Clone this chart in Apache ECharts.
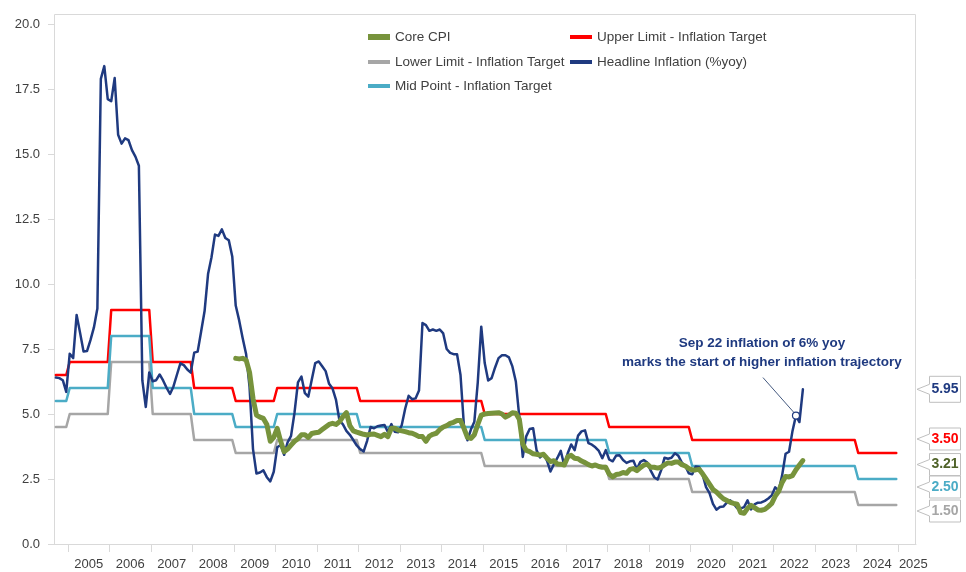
<!DOCTYPE html>
<html>
<head>
<meta charset="utf-8">
<script src="https://cdn.jsdelivr.net/npm/echarts@6/dist/echarts.min.js"></script>
<style>
  html, body { margin: 0; padding: 0; background: #fff; }
  #chart { width: 966px; height: 572px; }
</style>
</head>
<body>
<div id="chart"></div>
<script>
// monthly series, first month of each
const headlineStart = [2004, 9];
const coreStart = [2009, 1];

// Headline Inflation (%yoy), Sep 2004 .. Sep 2022
const headline = [
  6.40, 6.38, 6.30, 5.85,
  7.32, 7.15, 8.81, 8.12, 7.40, 7.42, 7.84, 8.33, 9.06, 17.89, 18.38, 17.11,
  17.03, 17.92, 15.74, 15.40, 15.60, 15.53, 15.15, 14.90, 14.55, 6.29, 5.27, 6.60,
  6.26, 6.30, 6.52, 6.29, 6.01, 5.77, 6.06, 6.51, 6.95, 6.88, 6.71, 6.59,
  7.36, 7.40, 8.17, 8.96, 10.38, 11.03, 11.90, 11.85, 12.10, 11.77, 11.68, 11.06,
  9.17, 8.60, 7.92, 7.31, 6.04, 3.65, 2.71, 2.75, 2.83, 2.57, 2.41, 2.78,
  3.72, 3.81, 3.43, 3.91, 4.16, 5.05, 6.22, 6.44, 5.80, 5.67, 6.33, 6.96,
  7.02, 6.84, 6.65, 6.16, 5.98, 5.54, 4.75, 4.60, 4.35, 4.20, 4.00, 3.79,
  3.65, 3.56, 3.97, 4.50, 4.45, 4.53, 4.56, 4.58, 4.31, 4.61, 4.32, 4.30,
  4.57, 5.20, 5.70, 5.57, 5.60, 5.90, 8.50, 8.42, 8.20, 8.25, 8.20, 8.25,
  8.10, 7.50, 7.35, 7.30, 7.30, 6.50, 4.53, 3.99, 4.40, 4.70, 6.23, 8.36,
  6.96, 6.29, 6.38, 6.79, 7.15, 7.26, 7.26, 7.18, 6.83, 6.25, 4.89, 3.35,
  4.14, 4.42, 4.45, 3.60, 3.33, 3.45, 3.21, 2.79, 3.07, 3.31, 3.58, 3.02,
  3.49, 3.83, 3.61, 4.17, 4.33, 4.37, 3.88, 3.82, 3.72, 3.58, 3.30, 3.61,
  3.25, 3.18, 3.40, 3.41, 3.23, 3.12, 3.18, 3.20, 2.88, 3.16, 3.23, 3.13,
  2.82, 2.57, 2.48, 2.83, 3.32, 3.28, 3.32, 3.49, 3.39, 3.13, 3.00, 2.72,
  2.68, 2.98, 2.96, 2.67, 2.19, 1.96, 1.54, 1.32, 1.42, 1.44, 1.59, 1.68,
  1.55, 1.38, 1.37, 1.42, 1.68, 1.33, 1.52, 1.59, 1.60, 1.66, 1.75, 1.87,
  2.18, 2.06, 2.64, 3.47, 3.55, 4.35, 4.94, 4.69, 5.95
];

// Core CPI, Jan 2009 .. Sep 2022
const coreCpi = [
  7.14, 7.12, 7.14, 7.08, 6.60, 5.60, 4.96, 4.88, 4.83, 4.60, 3.95, 4.10,
  4.45, 3.95, 3.55, 3.65, 3.80, 3.95, 4.05, 4.20, 4.20, 4.10, 4.25, 4.28,
  4.30, 4.40, 4.50, 4.60, 4.64, 4.60, 4.70, 4.90, 5.05, 4.55, 4.35, 4.30,
  4.26, 4.22, 4.19, 4.22, 4.23, 4.18, 4.13, 4.22, 4.13, 4.45, 4.45, 4.38,
  4.35, 4.32, 4.28, 4.26, 4.20, 4.13, 4.13, 3.95, 4.15, 4.22, 4.26, 4.40,
  4.50, 4.55, 4.64, 4.68, 4.75, 4.75, 4.45, 4.10, 4.06, 4.20, 4.60, 4.96,
  5.00, 5.02, 5.03, 5.04, 5.05, 5.00, 4.88, 4.95, 5.05, 5.03, 4.80, 3.85,
  3.60, 3.55, 3.47, 3.45, 3.42, 3.45, 3.30, 3.17, 3.20, 3.08, 3.07, 3.04,
  3.35, 3.41, 3.30, 3.28, 3.19, 3.13, 3.05, 3.00, 3.04, 2.98, 2.95, 2.95,
  2.69, 2.58, 2.67, 2.69, 2.75, 2.72, 2.87, 2.90, 2.82, 2.94, 3.03, 3.07,
  2.95, 2.95, 2.92, 2.95, 3.05, 3.12, 3.10, 3.15, 3.15, 3.05, 3.00, 2.90,
  2.85, 2.85, 2.87, 2.70, 2.50, 2.30, 2.10, 2.00, 1.86, 1.74, 1.67, 1.60,
  1.56, 1.53, 1.21, 1.18, 1.37, 1.49, 1.40, 1.31, 1.30, 1.33, 1.44, 1.56,
  1.84, 2.03, 2.37, 2.60, 2.58, 2.63, 2.86, 3.04, 3.21
];

// annual inflation target band
const targetYears = [2004, 2005, 2006, 2007, 2008, 2009, 2010, 2011, 2012, 2013, 2014,
  2015, 2016, 2017, 2018, 2019, 2020, 2021, 2022, 2023, 2024];
const upperLimit = [6.5, 7, 9, 7, 6, 5.5, 6, 6, 5.5, 5.5, 5.5, 5, 5, 5, 4.5, 4.5, 4, 4, 4, 4, 3.5];
const midPoint   = [5.5, 6, 8, 6, 5, 4.5, 5, 5, 4.5, 4.5, 4.5, 4, 4, 4, 3.5, 3.5, 3, 3, 3, 3, 2.5];
const lowerLimit = [4.5, 5, 7, 5, 4, 3.5, 4, 4, 3.5, 3.5, 3.5, 3, 3, 3, 2.5, 2.5, 2, 2, 2, 2, 1.5];

const xTickYears = [2005, 2006, 2007, 2008, 2009, 2010, 2011, 2012, 2013, 2014, 2015,
  2016, 2017, 2018, 2019, 2020, 2021, 2022, 2023, 2024, 2025];
const yTicks = [0, 2.5, 5, 7.5, 10, 12.5, 15, 17.5, 20];

const annotMonth = [2022, 7];
const annotText = 'Sep 22 inflation of 6% yoy\nmarks the start of higher inflation trajectory';

const NAMES = {
  core: 'Core CPI',
  upper: 'Upper Limit - Inflation Target',
  lower: 'Lower Limit - Inflation Target',
  head: 'Headline Inflation (%yoy)',
  mid: 'Mid Point - Inflation Target'
};
const COLORS = {
  core: '#77933c', upper: '#ff0000', lower: '#a6a6a6', head: '#1f3a80', mid: '#4bacc6'
};
const FONT = '"Liberation Sans", Arial, sans-serif';

// month -> decimal year, point drawn mid-month
function monthPos(y, m) { return y + (m - 0.5) / 12; }

function monthly(start, values) {
  return values.map((v, i) => {
    const idx = start[1] - 1 + i;
    return [monthPos(start[0] + Math.floor(idx / 12), (idx % 12) + 1), v];
  });
}

function steps(values) {
  const out = [];
  targetYears.forEach((yr, i) => {
    const from = yr === headlineStart[0] ? monthPos(yr, headlineStart[1]) : monthPos(yr, 1);
    out.push([from, values[i]], [monthPos(yr, 12), values[i]]);
  });
  return out;
}

const headData = monthly(headlineStart, headline);
const coreData = monthly(coreStart, coreCpi);

const annotIdx = (annotMonth[0] - headlineStart[0]) * 12 + annotMonth[1] - headlineStart[1];
const annotPoint = headData[annotIdx];

const chart = echarts.init(document.getElementById('chart'));

function lineSeries(key, data, width, z) {
  return {
    name: NAMES[key],
    type: 'line',
    data: data,
    color: COLORS[key],
    symbol: 'none',
    z: z,
    lineStyle: { width: width, color: COLORS[key], join: 'round', cap: 'round' },
    emphasis: { disabled: true }
  };
}

function legendItem(key, left, top, h) {
  return {
    left: left, top: top, padding: 0,
    data: [NAMES[key]],
    icon: 'rect', itemWidth: 22, itemHeight: h,
    textStyle: { fontSize: 13.5, color: '#404040', fontFamily: FONT }
  };
}

const headSeries = lineSeries('head', headData, 2.5, 4);
headSeries.markPoint = {
  symbol: 'circle', symbolSize: 7,
  itemStyle: { color: '#ffffff', borderColor: COLORS.head, borderWidth: 1.2 },
  label: { show: false },
  data: [{ coord: annotPoint }]
};

chart.setOption({
  animation: false,
  grid: { left: 54, right: 50, top: 24, bottom: 28 },
  legend: [
    legendItem('core', 368, 30, 6),
    legendItem('lower', 368, 55, 4),
    legendItem('mid', 368, 79, 4),
    legendItem('upper', 570, 30, 4),
    legendItem('head', 570, 55, 4)
  ],
  xAxis: {
    type: 'value',
    min: 2004.663, max: 2025.434,
    axisLine: { show: true, lineStyle: { color: '#d9d9d9', width: 1 } },
    axisTick: { show: true, customValues: xTickYears, length: 8, lineStyle: { color: '#d9d9d9' } },
    axisLabel: {
      customValues: xTickYears.map(y => y < 2025 ? y + 0.5 : y + 0.37),
      formatter: v => String(Math.floor(v)),
      margin: 14, fontSize: 13, color: '#404040', fontFamily: FONT
    },
    splitLine: { show: false }
  },
  yAxis: {
    type: 'value',
    min: yTicks[0], max: yTicks[yTicks.length - 1], interval: 2.5,
    axisLine: { show: true, lineStyle: { color: '#d9d9d9', width: 1 } },
    axisTick: { show: true, length: 6, lineStyle: { color: '#d9d9d9' } },
    axisLabel: {
      formatter: v => v.toFixed(1),
      margin: 14, fontSize: 13, color: '#404040', fontFamily: FONT
    },
    splitLine: { show: false }
  },
  series: [
    lineSeries('upper', steps(upperLimit), 2.5, 2),
    lineSeries('lower', steps(lowerLimit), 2.5, 2),
    lineSeries('mid', steps(midPoint), 2.5, 2),
    headSeries,
    lineSeries('core', coreData, 5, 5)
  ]
});

// annotation, frame and end-value callouts
const px = pt => chart.convertToPixel({ gridIndex: 0 }, pt);
const mk = px(annotPoint);
const graphics = [
  {
    type: 'rect', silent: true, z: 0,
    shape: { x: 54.5, y: 14.5, width: 861, height: 530 },
    style: { fill: null, stroke: '#d9d9d9', lineWidth: 1 }
  },
  {
    type: 'line', silent: true, z: 10,
    shape: { x1: mk[0] - 33, y1: mk[1] - 38, x2: mk[0] - 2, y2: mk[1] - 3 },
    style: { stroke: '#44597f', lineWidth: 1 }
  },
  {
    type: 'text', silent: true, z: 10,
    style: {
      text: annotText, x: mk[0] - 34, y: mk[1] - 82,
      align: 'center', verticalAlign: 'top', lineHeight: 19,
      font: 'bold 13.5px ' + FONT, fill: COLORS.head
    }
  }
];

const callouts = [
  { value: headline[headline.length - 1], color: COLORS.head, dy: 0, h: 26 },
  { value: upperLimit[upperLimit.length - 1], color: COLORS.upper, dy: -14, h: 22 },
  { value: coreCpi[coreCpi.length - 1], color: '#4f6228', dy: 4, h: 22 },
  { value: midPoint[midPoint.length - 1], color: COLORS.mid, dy: 8, h: 22 },
  { value: lowerLimit[lowerLimit.length - 1], color: COLORS.lower, dy: 6, h: 22 }
];
callouts.forEach(c => {
  const cy = px([2025, c.value])[1] + c.dy;
  const l = 929.5, r = 960.5, t = cy - c.h / 2, b = cy + c.h / 2, tip = 917;
  graphics.push({
    type: 'polygon', silent: true, z: 20,
    shape: { points: [[l, t], [r, t], [r, b], [l, b], [l, cy + 5], [tip, cy], [l, cy - 5]] },
    style: { fill: '#ffffff', stroke: '#bfbfbf', lineWidth: 1 }
  });
  graphics.push({
    type: 'text', silent: true, z: 21,
    style: {
      text: c.value.toFixed(2), x: (l + r) / 2, y: cy,
      align: 'center', verticalAlign: 'middle',
      font: 'bold 14px ' + FONT, fill: c.color
    }
  });
});
chart.setOption({ graphic: graphics });
</script>
</body>
</html>
